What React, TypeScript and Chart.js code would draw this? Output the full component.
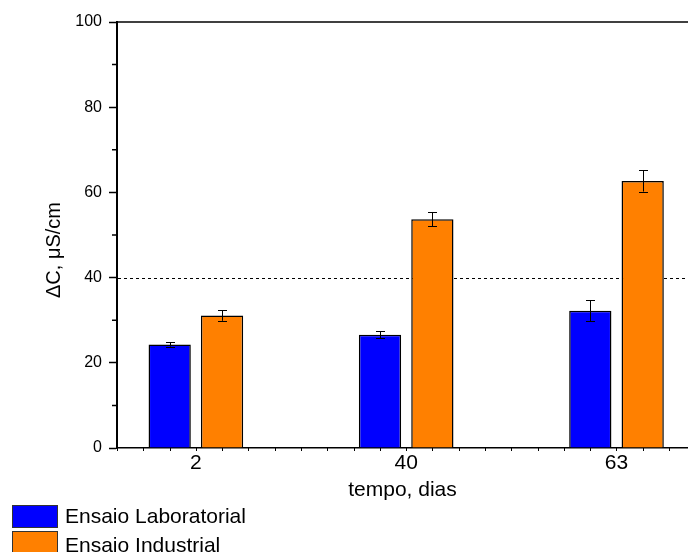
import { useEffect, useRef } from 'react';
import { Chart, registerables } from 'chart.js';

Chart.register(...registerables);

// Test duration (days) and conductivity increase per series
const days = ['2', '40', '63'];
const labValues = [24.3, 26.6, 32.2];
const labErrors = [0.5, 0.8, 2.5];
const indValues = [31.1, 53.7, 62.7];
const indErrors = [1.25, 1.7, 2.5];
const seriesNames = ['Ensaio Laboratorial', 'Ensaio Industrial'];
const seriesColors = ['#0000FF', '#FF8000'];
const yMinorTicks = [10, 30, 50, 70, 90];
const limitValue = 40;
const xTitle = 'tempo, dias';
const yTitle = 'ΔC, μS/cm';

const FONT = "'Liberation Sans', Arial, Helvetica, sans-serif";

const X_MIN = -0.375;
const X_MAX = 2.34;

const decorations = {
  id: 'decorations',
  beforeDatasetsDraw(chart: any) {
    const { ctx, chartArea, scales } = chart;
    const yy = Math.round(scales.y.getPixelForValue(limitValue)) + 0.5;
    ctx.save();
    ctx.strokeStyle = '#000';
    ctx.lineWidth = 1;
    ctx.setLineDash([3, 3]);
    ctx.beginPath();
    ctx.moveTo(chartArea.left + 1, yy);
    ctx.lineTo(chartArea.right, yy);
    ctx.stroke();
    ctx.restore();
  },
  afterDatasetsDraw(chart: any) {
    const { ctx, scales } = chart;
    ctx.save();
    ctx.strokeStyle = '#000';
    ctx.lineWidth = 1;
    chart.data.datasets.forEach((ds: any, di: number) => {
      const meta = chart.getDatasetMeta(di);
      meta.data.forEach((bar: any, i: number) => {
        const v = ds.data[i].y;
        const e = ds.errors[i];
        const top = scales.y.getPixelForValue(v + e);
        const bot = scales.y.getPixelForValue(v - e);
        const x = Math.round(bar.x) + 0.5;
        ctx.beginPath();
        ctx.moveTo(x, top);
        ctx.lineTo(x, bot);
        ctx.moveTo(x - 4.5, Math.round(top) + 0.5);
        ctx.lineTo(x + 4.5, Math.round(top) + 0.5);
        ctx.moveTo(x - 4.5, Math.round(bot) + 0.5);
        ctx.lineTo(x + 4.5, Math.round(bot) + 0.5);
        ctx.stroke();
      });
    });
    ctx.restore();
  },
  afterDraw(chart: any) {
    const { ctx, chartArea, scales } = chart;
    ctx.save();
    ctx.strokeStyle = '#000';

    // top frame line
    ctx.lineWidth = 1.5;
    ctx.beginPath();
    ctx.moveTo(chartArea.left, chartArea.top);
    ctx.lineTo(chartArea.right, chartArea.top);
    ctx.stroke();

    // minor y ticks
    ctx.lineWidth = 1.5;
    ctx.beginPath();
    yMinorTicks.forEach((v) => {
      const y = scales.y.getPixelForValue(v);
      ctx.moveTo(chartArea.left - 5, y);
      ctx.lineTo(chartArea.left, y);
    });
    ctx.stroke();

    // x ticks every eighth of a category
    ctx.lineWidth = 1;
    ctx.beginPath();
    for (let v = X_MIN; v <= X_MAX + 1e-6; v += 0.125) {
      const x = Math.round(scales.x.getPixelForValue(v)) + 0.5;
      ctx.moveTo(x, chartArea.bottom);
      ctx.lineTo(x, chartArea.bottom + 3);
    }
    ctx.stroke();

    // y axis title
    ctx.fillStyle = '#000';
    ctx.font = `20px ${FONT}`;
    ctx.textAlign = 'center';
    ctx.textBaseline = 'alphabetic';
    ctx.translate(60, 250);
    ctx.rotate(-Math.PI / 2);
    ctx.fillText(yTitle, 0, 0);
    ctx.setTransform(1, 0, 0, 1, 0, 0);

    // legend
    ctx.font = `21px ${FONT}`;
    ctx.textAlign = 'left';
    chart.data.datasets.forEach((ds: any, i: number) => {
      const by = 505 + i * 26;
      ctx.fillStyle = ds.backgroundColor;
      ctx.fillRect(12, by, 46, 22);
      ctx.strokeStyle = '#333';
      ctx.lineWidth = 1;
      ctx.strokeRect(12.5, by + 0.5, 45, 22);
      ctx.fillStyle = '#000';
      ctx.fillText(ds.label, 65, 523 + i * 28.5);
    });
    ctx.restore();
  },
};

export default function App() {
  const ref = useRef<HTMLCanvasElement>(null);

  useEffect(() => {
    if (!ref.current) return;
    const toPoints = (vals: number[]) => vals.map((y, i) => ({ x: i, y }));
    const chart = new Chart(ref.current, {
      type: 'bar',
      data: {
        datasets: [
          {
            label: seriesNames[0],
            data: toPoints(labValues),
            errors: labErrors,
            backgroundColor: seriesColors[0],
            borderColor: '#000',
            borderWidth: 1.5,
          } as any,
          {
            label: seriesNames[1],
            data: toPoints(indValues),
            errors: indErrors,
            backgroundColor: seriesColors[1],
            borderColor: '#000',
            borderWidth: 1.5,
          } as any,
        ],
      },
      options: {
        responsive: false,
        animation: false,
        devicePixelRatio: 1,
        categoryPercentage: 0.498,
        barPercentage: 0.807,
        layout: { padding: { top: 22, right: 0, left: 0, bottom: 0 } },
        plugins: {
          legend: { display: false },
          tooltip: { enabled: false },
        },
        scales: {
          x: {
            type: 'linear',
            min: X_MIN,
            max: X_MAX,
            offset: false,
            grid: { display: false, drawTicks: false, offset: false },
            border: { display: true, color: '#000', width: 1.5 },
            afterBuildTicks: (scale: any) => {
              scale.ticks = days.map((_, i) => ({ value: i }));
            },
            afterFit: (scale: any) => {
              scale.height = 104;
            },
            ticks: {
              color: '#000',
              padding: 3,
              maxRotation: 0,
              font: { family: FONT, size: 21 },
              callback: (v: any) => days[v as number] ?? '',
            },
            title: {
              display: true,
              text: xTitle,
              color: '#000',
              font: { family: FONT, size: 21 },
              padding: { top: 0, bottom: 49 },
            },
          },
          y: {
            min: 0,
            max: 100,
            grid: {
              display: true,
              drawOnChartArea: false,
              drawTicks: true,
              tickLength: 8,
              tickColor: '#000',
              tickWidth: 1.5,
            },
            border: { display: true, color: '#000', width: 2 },
            afterFit: (scale: any) => {
              scale.width = 117;
            },
            ticks: {
              stepSize: 20,
              color: '#000',
              padding: 7,
              font: { family: FONT, size: 16 },
            },
          },
        },
      },
      plugins: [decorations],
    });
    return () => chart.destroy();
  }, []);

  return (
    <div style={{ position: 'fixed', left: 0, top: 0, width: 688, height: 552, background: '#fff' }}>
      <canvas ref={ref} width={688} height={552} />
    </div>
  );
}
